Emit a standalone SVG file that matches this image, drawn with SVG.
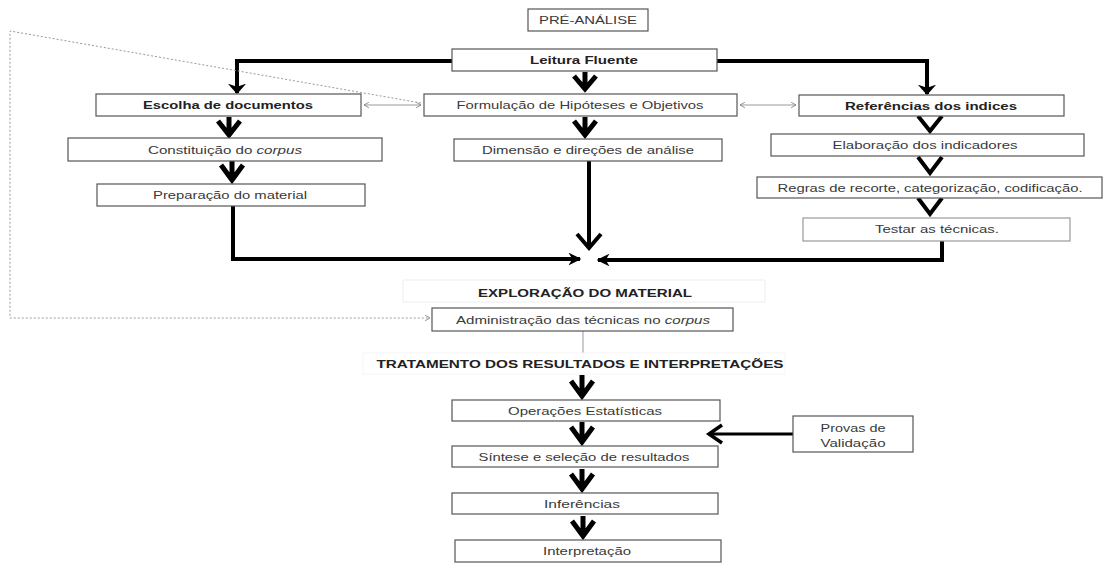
<svg xmlns="http://www.w3.org/2000/svg" width="1103" height="563" viewBox="0 0 1103 563">
  <defs>
    <style>
      .box { fill: #fff; stroke: #555; stroke-width: 1.2; }
      .faint { fill: #fff; stroke: #eee; stroke-width: 1; }
      .t { font-family: "Liberation Sans", Arial, sans-serif; font-size: 11.5px; fill: #3a3a3a; text-anchor: middle; }
      .b { font-weight: bold; fill: #222; }
      .thick { fill: none; stroke: #000; stroke-width: 4; }
      .yarrow { fill: none; stroke: #000; stroke-width: 5; stroke-linejoin: miter; }
      .vee { fill: none; stroke: #000; stroke-width: 4; stroke-linejoin: miter; }
      .thin { fill: none; stroke: #999; stroke-width: 1; }
      .dotted { fill: none; stroke: #999; stroke-width: 1; stroke-dasharray: 2 2; }
    </style>
    <marker id="headFill" viewBox="0 0 10 10" refX="9" refY="5" markerWidth="3.2" markerHeight="3.2" markerUnits="strokeWidth" orient="auto">
      <path d="M0,0 L10,5 L0,10 L3,5 Z" fill="#000"/>
    </marker>
    <marker id="headWide" viewBox="0 0 10 10" refX="9" refY="5" markerWidth="2.6" markerHeight="4.6" markerUnits="strokeWidth" orient="auto" preserveAspectRatio="none">
      <path d="M0,0 L10,5 L0,10 L3,5 Z" fill="#000"/>
    </marker>
    <marker id="headSmall" viewBox="0 0 10 10" refX="9" refY="5" markerWidth="7" markerHeight="7" markerUnits="strokeWidth" orient="auto-start-reverse">
      <path d="M2,1 L9,5 L2,9" fill="none" stroke="#888" stroke-width="1.3"/>
    </marker>
  </defs>

  <!-- connectors -->
  <g id="connectors">
    <!-- Leitura Fluente branches -->
    <path class="thick" d="M452,61 H237 V93" marker-end="url(#headWide)"/>
    <path class="thick" d="M717,61 H927 V94" marker-end="url(#headWide)"/>

    <!-- stemmed chevrons, central and left columns -->
    <path class="yarrow" d="M585,72 V89 M574,76 L585,89 L596,76"/>
    <path class="yarrow" d="M585,117 V135 M574,121 L585,135 L596,121"/>
    <path class="yarrow" d="M229,117 V135 M218,121 L229,135 L240,121"/>
    <path class="yarrow" d="M232,161 V180 M221,165 L232,180 L243,165"/>

    <!-- open chevrons, right column -->
    <path class="vee" d="M918,116 L930,131 L942,116"/>
    <path class="vee" d="M918,157 L930,173 L942,157"/>
    <path class="vee" d="M918,198 L930,214 L942,198"/>

    <!-- lines meeting before the exploration stage -->
    <path class="thick" d="M233,206 V259 H580" marker-end="url(#headFill)"/>
    <path class="thick" d="M942,241 V260 H598" marker-end="url(#headFill)"/>
    <path class="thick" d="M589,161 V248"/>
    <path class="vee" d="M577,234 L589,248 L601,234"/>

    <!-- grey two-way links -->
    <path class="thin" d="M364,105 H421" marker-start="url(#headSmall)" marker-end="url(#headSmall)"/>
    <path class="thin" d="M740,105 H796" marker-start="url(#headSmall)" marker-end="url(#headSmall)"/>

    <!-- dotted feedback loop -->
    <path class="dotted" d="M421,103 L10,31 V318 H430" marker-end="url(#headSmall)"/>

    <!-- link to the treatment stage -->
    <path class="thin" d="M583,331 V357"/>

    <!-- treatment sequence -->
    <path class="yarrow" d="M582,375 V396 M571,381 L582,396 L593,381"/>
    <path class="yarrow" d="M582,422 V442 M571,427 L582,442 L593,427"/>
    <path class="yarrow" d="M582,469 V489 M571,474 L582,489 L593,474"/>
    <path class="yarrow" d="M583,516 V536 M572,521 L583,536 L594,521"/>

    <!-- validation feedback -->
    <path fill="none" stroke="#000" stroke-width="3" d="M793,434 H710"/>
    <path fill="none" stroke="#000" stroke-width="3.5" d="M722,425 L709,434 L722,443"/>
  </g>

  <g id="pre-analise">
    <rect class="box" x="528" y="9" width="120" height="22"/>
    <text class="t" x="588" y="24" textLength="98" lengthAdjust="spacingAndGlyphs">PRÉ-ANÁLISE</text>
  </g>
  <g id="leitura-fluente">
    <rect class="box" x="452" y="49" width="265" height="22"/>
    <text class="t b" x="584" y="64" textLength="108" lengthAdjust="spacingAndGlyphs">Leitura Fluente</text>
  </g>
  <g id="escolha-documentos">
    <rect class="box" x="96" y="94" width="265" height="22"/>
    <text class="t b" x="228" y="109" textLength="170" lengthAdjust="spacingAndGlyphs">Escolha de documentos</text>
  </g>
  <g id="formulacao-hipoteses">
    <rect class="box" x="424" y="94" width="313" height="22"/>
    <text class="t" x="580" y="109" textLength="247" lengthAdjust="spacingAndGlyphs">Formulação de Hipóteses e Objetivos</text>
  </g>
  <g id="referencias-indices">
    <rect class="box" x="799" y="95" width="265" height="21"/>
    <text class="t b" x="931" y="110" textLength="172" lengthAdjust="spacingAndGlyphs">Referências dos indices</text>
  </g>
  <g id="constituicao-corpus">
    <rect class="box" x="68" y="138" width="314" height="23"/>
    <text class="t" x="225" y="154" textLength="154" lengthAdjust="spacingAndGlyphs">Constituição do <tspan font-style="italic">corpus</tspan></text>
  </g>
  <g id="dimensao-direcoes">
    <rect class="box" x="454" y="139" width="268" height="22"/>
    <text class="t" x="588" y="154" textLength="212" lengthAdjust="spacingAndGlyphs">Dimensão e direções de análise</text>
  </g>
  <g id="elaboracao-indicadores">
    <rect class="box" x="771" y="134" width="313" height="22"/>
    <text class="t" x="925" y="149" textLength="185" lengthAdjust="spacingAndGlyphs">Elaboração dos indicadores</text>
  </g>
  <g id="preparacao-material">
    <rect class="box" x="97" y="184" width="268" height="22"/>
    <text class="t" x="230" y="199" textLength="154" lengthAdjust="spacingAndGlyphs">Preparação do material</text>
  </g>
  <g id="regras-recorte">
    <rect class="box" x="757" y="177" width="345" height="21"/>
    <text class="t" x="930" y="192" textLength="305" lengthAdjust="spacingAndGlyphs">Regras de recorte, categorização, codificação.</text>
  </g>
  <g id="testar-tecnicas">
    <rect class="box" x="803" y="218" width="267" height="23" style="stroke:#999"/>
    <text class="t" x="937" y="233" textLength="124" lengthAdjust="spacingAndGlyphs">Testar as técnicas.</text>
  </g>
  <g id="exploracao-material">
    <rect class="faint" x="403" y="280" width="362" height="22"/>
    <text class="t b" x="585" y="297" textLength="214" lengthAdjust="spacingAndGlyphs">EXPLORAÇÃO DO MATERIAL</text>
  </g>
  <g id="administracao-tecnicas">
    <rect class="box" x="432" y="308" width="301" height="23"/>
    <text class="t" x="583" y="324" textLength="254" lengthAdjust="spacingAndGlyphs">Administração das técnicas no <tspan font-style="italic">corpus</tspan></text>
  </g>
  <g id="tratamento-resultados">
    <rect class="faint" x="363" y="353" width="422" height="21" style="stroke:#f5f5f5"/>
    <text class="t b" x="580" y="368" textLength="407" lengthAdjust="spacingAndGlyphs">TRATAMENTO DOS RESULTADOS E INTERPRETAÇÕES</text>
  </g>
  <g id="operacoes-estatisticas">
    <rect class="box" x="452" y="400" width="268" height="21"/>
    <text class="t" x="585" y="415" textLength="154" lengthAdjust="spacingAndGlyphs">Operações Estatísticas</text>
  </g>
  <g id="sintese-selecao">
    <rect class="box" x="452" y="446" width="266" height="21"/>
    <text class="t" x="584" y="461" textLength="211" lengthAdjust="spacingAndGlyphs">Síntese e seleção de resultados</text>
  </g>
  <g id="inferencias">
    <rect class="box" x="452" y="493" width="266" height="21"/>
    <text class="t" x="582" y="508" textLength="76" lengthAdjust="spacingAndGlyphs">Inferências</text>
  </g>
  <g id="interpretacao">
    <rect class="box" x="455" y="540" width="266" height="22"/>
    <text class="t" x="587" y="555" textLength="88" lengthAdjust="spacingAndGlyphs">Interpretação</text>
  </g>
  <g id="provas-validacao">
    <rect class="box" x="793" y="416" width="120" height="36"/>
    <text class="t" x="853" y="432" textLength="65" lengthAdjust="spacingAndGlyphs">Provas de</text>
    <text class="t" x="853" y="447" textLength="65" lengthAdjust="spacingAndGlyphs">Validação</text>
  </g>
</svg>
